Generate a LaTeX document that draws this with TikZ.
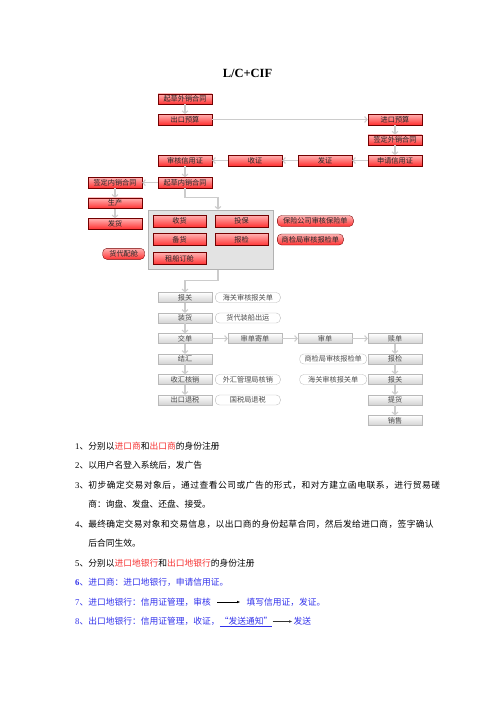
\documentclass[tikz,border=0pt]{standalone}
\usepackage{fontspec}
\setmainfont{Liberation Serif}
\newfontfamily\cjk{Noto Sans CJK SC}
\usepackage{xcolor}
\usetikzlibrary{arrows.meta, positioning, calc, backgrounds, fit}
\definecolor{notered}{RGB}{245,50,50}
\definecolor{noteblue}{RGB}{50,50,235}
\tikzset{
  redblock/.style={
    rectangle, draw=red!45!black, top color=red!30, bottom color=red!80,
    text=black!85, font=\fontsize{8.6}{9}\cjk, minimum width=64.8pt, minimum height=12.6pt, inner sep=0pt
  },
  panelblock/.style={
    redblock, minimum width=63.6pt, minimum height=14.4pt
  },
  greyblock/.style={
    rectangle, draw=gray!55, top color=white, bottom color=gray!35,
    text=black!70, font=\fontsize{8.6}{9}\cjk, minimum width=64.8pt, minimum height=12pt, inner sep=0pt
  },
  rednote/.style={
    rectangle, rounded corners=5pt, draw=red!45!black, top color=red!30, bottom color=red!80,
    text=black!85, font=\fontsize{8.6}{9}\cjk, minimum height=13.2pt, inner sep=0pt
  },
  greynote/.style={
    rectangle, rounded corners=5pt, draw=gray!55, fill=white,
    text=black!70, font=\fontsize{8.6}{9}\cjk, minimum height=12pt, inner sep=0pt
  },
  panelbox/.style={
    rectangle, draw=gray!60, fill=gray!22, inner sep=6pt
  },
  flowarrow/.style={
    line width=1.3pt, draw=gray!40, -{Straight Barb[length=3pt,width=7pt]}
  },
  noteline/.style={
    font=\fontsize{10.5}{12}\cjk, anchor=west, inner sep=0pt
  },
  notearrow/.style={
    thick, -{Latex[length=4pt]}
  }
}
\begin{document}
\begin{tikzpicture}[x=1.2pt, y=-1.2pt, node distance=24.6pt]
  \useasboundingbox (0,0) rectangle (496,702);
  \node[font=\fontsize{15}{18}\selectfont\bfseries] (title) at (247.5,73) {L/C+CIF};

  % contract and credit
  \node[redblock] (draftex) at (185,99) {起草外销合同};
  \node[redblock, below of=draftex] (budget) {出口预算};
  \node[redblock, right of=budget, xshift=227.4pt] (imbudget) {进口预算};
  \node[redblock, below of=imbudget] (signex) {签定外销合同};
  \node[redblock, below of=signex] (applylc) {申请信用证};
  \node[redblock, left of=applylc, xshift=-59.4pt] (issuelc) {发证};
  \node[redblock, left of=issuelc, xshift=-59.4pt] (recvlc) {收证};
  \node[redblock, left of=recvlc, xshift=-59.4pt] (checklc) {审核信用证};
  \node[redblock, below of=checklc, yshift=-2pt] (draftdom) {起草内销合同};
  \node[redblock, left of=draftdom, xshift=-59.4pt] (signdom) {签定内销合同};
  \node[redblock, below of=signdom] (produce) {生产};
  \node[redblock, below of=produce] (deliver) {发货};

  % goods panel
  \node[panelblock] (recvgoods) at (179.5,221) {收货};
  \node[panelblock, right of=recvgoods, xshift=49.8pt] (insure) {投保};
  \node[panelblock, below of=recvgoods, yshift=2.4pt] (stock) {备货};
  \node[panelblock, below of=insure, yshift=2.4pt] (inspect) {报检};
  \node[panelblock, below of=stock, yshift=2pt] (charter) {租船订舱};
  \node[rednote, minimum width=91.2pt, right=10.8pt of insure] (insquote) {保险公司审核保险单};
  \node[rednote, minimum width=79.2pt, right=10.8pt of inspect] (inspquote) {商检局审核报检单};
  \node[rednote, minimum width=50.4pt, left=9.6pt of charter, yshift=5.4pt] (booking) {货代配舱};
  \begin{scope}[on background layer]
    \node[panelbox, fit=(recvgoods)(insure)(charter)] (panel) {};
  \end{scope}

  % shipping and documents
  \node[greyblock] (customs) at (185,297.5) {报关};
  \node[greyblock, below of=customs] (loading) {装货};
  \node[greyblock, below of=loading] (present) {交单};
  \node[greyblock, below of=present] (settle) {结汇};
  \node[greyblock, below of=settle] (verify) {收汇核销};
  \node[greyblock, below of=verify] (refund) {出口退税};
  \node[greynote, minimum width=78pt, right=3.6pt of customs] (customsnote) {海关审核报关单};
  \node[greynote, minimum width=78pt, right=3.6pt of loading] (loadnote) {货代装船出运};
  \node[greynote, minimum width=78pt, right=3.6pt of verify] (verifynote) {外汇管理局核销};
  \node[greynote, minimum width=78pt, right=3.6pt of refund] (refundnote) {国税局退税};
  \node[greyblock, right of=present, xshift=59.4pt] (checksend) {审单寄单};
  \node[greyblock, right of=checksend, xshift=59.4pt] (checkdoc) {审单};
  \node[greyblock, right of=checkdoc, xshift=59.4pt] (redeem) {赎单};
  \node[greyblock, below of=redeem] (iminspect) {报检};
  \node[greyblock, below of=iminspect] (imcustoms) {报关};
  \node[greyblock, below of=imcustoms] (pickup) {提货};
  \node[greyblock, below of=pickup] (sell) {销售};
  \node[greynote, minimum width=80.4pt, left=1.2pt of iminspect] (inspnote) {商检局审核报检单};
  \node[greynote, minimum width=80.4pt, left=1.2pt of imcustoms] (customsnote2) {海关审核报关单};

  \draw[flowarrow] (draftex) -- (budget);
  \draw[flowarrow] (budget) -- (imbudget);
  \draw[flowarrow] (imbudget) -- (signex);
  \draw[flowarrow] (signex) -- (applylc);
  \draw[flowarrow] (applylc) -- (issuelc);
  \draw[flowarrow] (issuelc) -- (recvlc);
  \draw[flowarrow] (recvlc) -- (checklc);
  \draw[flowarrow] (checklc) -- (draftdom);
  \draw[flowarrow] (draftdom) -- (signdom);
  \draw[flowarrow] (signdom) -- (produce);
  \draw[flowarrow] (produce) -- (deliver);
  \draw[flowarrow] (draftdom.south) -- ++(0,-10.8pt) -| ([xshift=9pt]panel.north);
  \draw[flowarrow] ([xshift=9pt]panel.south) -- ++(0,-13pt) -| (customs.north);
  \draw[flowarrow] (customs) -- (loading);
  \draw[flowarrow] (loading) -- (present);
  \draw[flowarrow] (present) -- (settle);
  \draw[flowarrow] (settle) -- (verify);
  \draw[flowarrow] (verify) -- (refund);
  \draw[flowarrow] (present) -- (checksend);
  \draw[flowarrow] (checksend) -- (checkdoc);
  \draw[flowarrow] (checkdoc) -- (redeem);
  \draw[flowarrow] (redeem) -- (iminspect);
  \draw[flowarrow] (iminspect) -- (imcustoms);
  \draw[flowarrow] (imcustoms) -- (pickup);
  \draw[flowarrow] (pickup) -- (sell);

  % steps
  \node[noteline] (n1) at (75,446) {\textrm{1}、分别以\textcolor{notered}{进口商}和\textcolor{notered}{出口商}的身份注册};
  \node[noteline, below=23.4pt of n1.west, anchor=west] (n2) {\textrm{2}、以用户名登入系统后，发广告};
  \node[noteline, below=23.4pt of n2.west, anchor=west] (n3) {\textrm{3}、{\addfontfeature{LetterSpace=6}初步确定交易对象后，通过查看公司或广告的形式，和对方建立函电联系，进行贸易磋}};
  \node[noteline, below=23.4pt of n3.west, anchor=west] (n3b) {\phantom{\textrm{3}、}商：询盘、发盘、还盘、接受。};
  \node[noteline, below=23.4pt of n3b.west, anchor=west] (n4) {\textrm{4}、{\addfontfeature{LetterSpace=4}最终确定交易对象和交易信息，以出口商的身份起草合同，然后发给进口商，签字确认}};
  \node[noteline, below=23.4pt of n4.west, anchor=west] (n4b) {\phantom{\textrm{4}、}后合同生效。};
  \node[noteline, below=23.4pt of n4b.west, anchor=west] (n5) {\textrm{5}、分别以\textcolor{notered}{进口地银行}和\textcolor{notered}{出口地银行}的身份注册};
  \node[noteline, text=noteblue, below=23.4pt of n5.west, anchor=west] (n6) {\textrm{\textbf{6}}、进口商：进口地银行，申请信用证。};
  \node[noteline, text=noteblue, below=23.4pt of n6.west, anchor=west] (n7) {\textrm{7}、进口地银行：信用证管理，审核};
  \node[noteline, text=noteblue, right=42.6pt of n7] (n7b) {填写信用证，发证。};
  \node[noteline, text=noteblue, below=23.4pt of n7.west, anchor=west] (n8) {\textrm{8}、出口地银行：信用证管理，收证，};
  \node[noteline, text=noteblue, right=0pt of n8] (n8b) {\underline{“发送通知”}};
  \node[noteline, text=noteblue, right=25pt of n8b] (n8c) {发送};
  \draw[notearrow, shorten <=7.8pt, shorten >=7.2pt] (n7.east) -- (n7b.west);
  \draw[notearrow, draw=gray!40!black, shorten >=1pt] (n8b.east) -- (n8c.west);
\end{tikzpicture}
\end{document}
